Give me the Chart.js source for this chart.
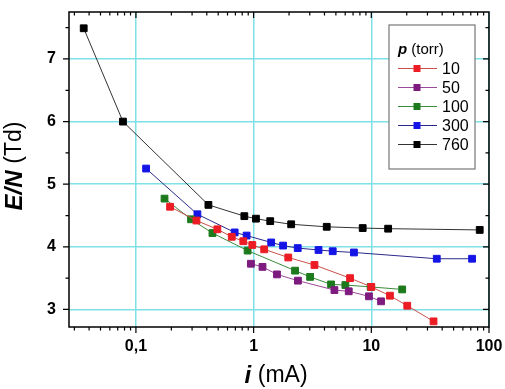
<!DOCTYPE html>
<html>
<head>
<meta charset="utf-8">
<script src="https://cdn.jsdelivr.net/npm/chart.js@4/dist/chart.umd.min.js"></script>
<style>
  html, body { margin: 0; padding: 0; background: #fff; }
  #wrap { width: 505px; height: 389px; }
</style>
</head>
<body>
<div id="wrap"><canvas id="enChart" width="505" height="389"></canvas></div>
<script>
// p = 10 torr
var i10  = [0.195, 0.327, 0.492, 0.652, 0.817, 0.975, 1.23, 1.97, 3.29, 6.60, 10.0, 14.4, 20.2, 33.8];
var en10 = [4.64, 4.42, 4.28, 4.16, 4.09, 4.03, 3.96, 3.83, 3.71, 3.50, 3.36, 3.22, 3.06, 2.81];
// p = 50 torr
var i50  = [0.949, 1.19, 1.58, 2.38, 4.86, 6.43, 9.55, 12.1];
var en50 = [3.73, 3.68, 3.56, 3.46, 3.31, 3.29, 3.21, 3.13];
// p = 100 torr
var i100  = [0.175, 0.294, 0.447, 0.889, 2.25, 3.02, 4.55, 6.02, 9.87, 18.3];
var en100 = [4.77, 4.44, 4.22, 3.94, 3.62, 3.52, 3.40, 3.39, 3.36, 3.32];
// p = 300 torr
var i300  = [0.122, 0.333, 0.690, 0.872, 1.41, 1.78, 2.37, 3.56, 4.70, 7.12, 36.0, 71.8];
var en300 = [5.25, 4.52, 4.23, 4.18, 4.07, 4.02, 3.98, 3.95, 3.93, 3.91, 3.81, 3.81];
// p = 760 torr
var i760  = [0.036, 0.0776, 0.413, 0.834, 1.047, 1.384, 2.085, 4.18, 8.45, 13.9, 83.4];
var en760 = [7.49, 6.00, 4.67, 4.49, 4.45, 4.41, 4.36, 4.32, 4.30, 4.29, 4.27];

var pressures = ["10", "50", "100", "300", "760"];
var xMajor = [0.1, 1, 10, 100];
var yMajor = [3, 4, 5, 6, 7];

function pts(xs, ys) {
    return xs.map(function (x, k) { return { x: x, y: ys[k] }; });
}

function series(label, xs, ys, marker, line) {
    return {
        label: label,
        data: pts(xs, ys),
        borderColor: line,
        backgroundColor: marker,
        pointBackgroundColor: marker,
        pointBorderColor: marker,
        borderWidth: 1,
        pointStyle: 'rect',
        pointRadius: 4.8,
        pointHoverRadius: 4.8,
        tension: 0
    };
}

function noPad(scale) {
    scale.paddingLeft = 0;
    scale.paddingRight = 0;
    scale.paddingTop = 0;
    scale.paddingBottom = 0;
}

// frame, tick marks, axis titles and legend
var decorPlugin = {
    id: 'decor',
    afterDraw: function (chart) {
        var c = chart.ctx, a = chart.chartArea;
        var sx = chart.scales.x, sy = chart.scales.y;
        c.save();
        c.strokeStyle = '#000';
        c.lineWidth = 1.5;
        c.strokeRect(a.left, a.top, a.right - a.left, a.bottom - a.top);

        c.lineWidth = 1.2;
        c.beginPath();
        // x ticks: major + log minors
        for (var e = -2; e <= 1; e++) {
            for (var m = 1; m <= 9; m++) {
                var v = m * Math.pow(10, e);
                if (v < sx.min || v > sx.max) continue;
                var px = sx.getPixelForValue(v);
                var len = (m === 1) ? 6 : 3.5;
                c.moveTo(px, a.bottom); c.lineTo(px, a.bottom + len);
                c.moveTo(px, a.top); c.lineTo(px, a.top + len);
            }
        }
        var p100 = sx.getPixelForValue(100);
        c.moveTo(p100, a.bottom); c.lineTo(p100, a.bottom + 6);
        // y ticks every 0.5
        for (var y = 3; y <= 7.5; y += 0.5) {
            var py = sy.getPixelForValue(y);
            var l2 = (y % 1 === 0) ? 6 : 3.5;
            c.moveTo(a.left, py); c.lineTo(a.left - l2, py);
            c.moveTo(a.right, py); c.lineTo(a.right - l2, py);
        }
        c.stroke();

        // x title: i (mA)
        c.fillStyle = '#000';
        c.textBaseline = 'middle';
        c.textAlign = 'left';
        c.font = 'italic bold 24px "Liberation Sans", Arial, sans-serif';
        var t1 = 'i ';
        var w1 = c.measureText(t1).width;
        c.font = '23px "Liberation Sans", Arial, sans-serif';
        var t2 = '(mA)';
        var w2 = c.measureText(t2).width;
        var xs0 = (a.left + a.right) / 2 - (w1 + w2) / 2 - 3;
        c.font = 'italic bold 24px "Liberation Sans", Arial, sans-serif';
        c.fillText(t1, xs0, 376);
        c.font = '23px "Liberation Sans", Arial, sans-serif';
        c.fillText(t2, xs0 + w1, 376);

        // y title: E/N (Td)
        c.save();
        c.translate(15, 166);
        c.rotate(-Math.PI / 2);
        c.font = 'italic bold 24px "Liberation Sans", Arial, sans-serif';
        var t3 = 'E/N ';
        var w3 = c.measureText(t3).width;
        c.font = '23px "Liberation Sans", Arial, sans-serif';
        var t4 = '(Td)';
        var w4 = c.measureText(t4).width;
        var ys0 = -(w3 + w4) / 2;
        c.font = 'italic bold 24px "Liberation Sans", Arial, sans-serif';
        c.fillText(t3, ys0, 0);
        c.font = '23px "Liberation Sans", Arial, sans-serif';
        c.fillText(t4, ys0 + w3, 0);
        c.restore();

        // legend box
        c.fillStyle = '#fff';
        c.fillRect(389, 25, 86, 144);
        c.strokeStyle = '#777';
        c.lineWidth = 1.2;
        c.strokeRect(389, 25, 86, 144);
        c.fillStyle = '#000';
        c.font = 'italic bold 15px "Liberation Sans", Arial, sans-serif';
        c.fillText('p', 398, 50);
        var wp = c.measureText('p ').width;
        c.font = '15px "Liberation Sans", Arial, sans-serif';
        c.fillText('(torr)', 398 + wp, 50);
        var rows = [68.5, 87.5, 106.5, 125.5, 144.5];
        chart.data.datasets.forEach(function (ds, k) {
            var yy = rows[k];
            c.strokeStyle = ds.borderColor;
            c.lineWidth = 1;
            c.beginPath();
            c.moveTo(398, yy); c.lineTo(437, yy);
            c.stroke();
            c.fillStyle = ds.pointBackgroundColor;
            c.fillRect(413.5, yy - 3.5, 7, 7);
            c.fillStyle = '#000';
            c.font = '16px "Liberation Sans", Arial, sans-serif';
            c.fillText(ds.label, 442, yy + 1);
        });
        c.restore();
    }
};

var ctx = document.getElementById('enChart').getContext('2d');

var enChart = new Chart(ctx, {
    type: 'line',
    data: {
        datasets: [
            series(pressures[0], i10, en10, '#ec1c24', '#c8504a'),
            series(pressures[1], i50, en50, '#7d1b7e', '#9a4a9a'),
            series(pressures[2], i100, en100, '#1c7a1c', '#3c8a3c'),
            series(pressures[3], i300, en300, '#1414e6', '#2a2a8a'),
            series(pressures[4], i760, en760, '#000000', '#333333')
        ]
    },
    options: {
        responsive: false,
        animation: false,
        layout: { padding: { top: 12, right: 16, left: 0, bottom: 0 } },
        plugins: {
            legend: { display: false },
            title: { display: false },
            tooltip: { enabled: false }
        },
        scales: {
            x: {
                type: 'logarithmic',
                min: 0.027,
                max: 100,
                afterBuildTicks: function (scale) {
                    scale.ticks = xMajor.map(function (v) { return { value: v, major: true }; });
                },
                afterFit: function (scale) { scale.height = 62; noPad(scale); },
                grid: { color: '#7fe0e6', lineWidth: 1.5, drawTicks: false },
                border: { display: false },
                ticks: {
                    padding: 10,
                    color: '#000',
                    font: { family: '"Liberation Sans", Arial, sans-serif', size: 16, weight: 'bold' },
                    callback: function (v) { return String(v).replace('.', ','); }
                }
            },
            y: {
                type: 'linear',
                min: 2.72,
                max: 7.75,
                afterBuildTicks: function (scale) {
                    scale.ticks = yMajor.map(function (v) { return { value: v }; });
                },
                afterFit: function (scale) { scale.width = 69; noPad(scale); },
                grid: { color: '#7fe0e6', lineWidth: 1.5, drawTicks: false },
                border: { display: false },
                ticks: {
                    padding: 13,
                    color: '#000',
                    font: { family: '"Liberation Sans", Arial, sans-serif', size: 16, weight: 'bold' }
                }
            }
        }
    },
    plugins: [decorPlugin]
});
</script>
</body>
</html>
